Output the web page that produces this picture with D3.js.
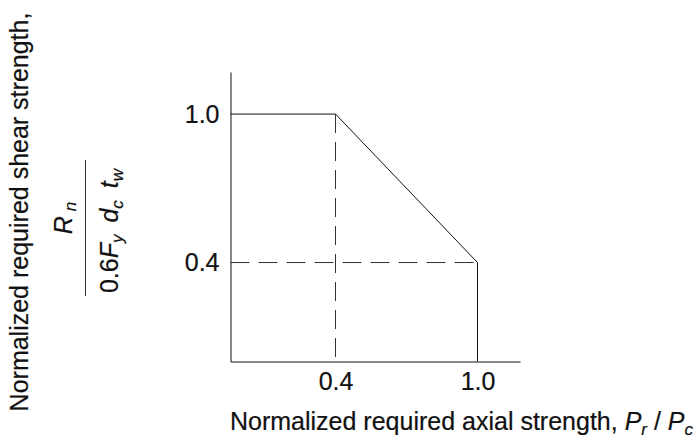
<!DOCTYPE html>
<html>
<head>
<meta charset="utf-8">
<script src="https://cdn.jsdelivr.net/npm/d3@7"></script>
<style>
  body { margin: 0; background: #fff; }
  text { font-family: Arial, "Liberation Sans", sans-serif; fill: #111; stroke: #111; stroke-width: 0.2px; }
</style>
</head>
<body>
<svg id="chart" width="696" height="438"></svg>
<script>
// Tick positions and labels
const xTicks = [0.4, 1.0];
const yTicks = [0.4, 1.0];
const xTickLabels = ["0.4", "1.0"];
const yTickLabels = ["0.4", "1.0"];

// Panel-zone shear envelope: normalized axial strength vs normalized shear strength
const envelopeAxial = [0, 0.4, 1.0, 1.0];
const envelopeShear = [1.0, 1.0, 0.4, 0];

// Dashed guide lines
const guideH = { axial: [0, 1.0], shear: [0.4, 0.4] };
const guideV = { axial: [0.4, 0.4], shear: [1.0, 0] };

const svg = d3.select("#chart");

// Schematic x scale (piecewise linear through the tick positions)
const x = d3.scaleLinear()
  .domain([0, 0.4, 1.0, 1.18])
  .range([230.5, 335.5, 477.5, 520]);

const y = d3.scaleLinear()
  .domain([0, 1.17])
  .range([361.5, 72]);

const lineGen = d3.line().x(d => x(d[0])).y(d => y(d[1]));

// Axes
const xAxis = d3.axisBottom(x)
  .tickValues(xTicks)
  .tickFormat((d, i) => xTickLabels[i])
  .tickSize(0).tickSizeOuter(0).tickPadding(10.5);
const yAxis = d3.axisLeft(y)
  .tickValues(yTicks)
  .tickFormat((d, i) => yTickLabels[i])
  .tickSize(0).tickSizeOuter(0).tickPadding(11);

const gx = svg.append("g").attr("transform", `translate(0,${y(0)})`).call(xAxis);
const gy = svg.append("g").attr("transform", `translate(${x(0)},0)`).call(yAxis);
[gx, gy].forEach(g => {
  g.select(".domain").attr("stroke", "#111").attr("stroke-width", 1);
  g.selectAll("text").attr("font-size", 25).attr("fill", "#111")
    .style("font-family", "Arial, 'Liberation Sans', sans-serif");
});

// Dashed guides
svg.append("path")
  .datum(d3.zip(guideH.axial, guideH.shear))
  .attr("d", lineGen)
  .attr("fill", "none").attr("stroke", "#333").attr("stroke-width", 1)
  .attr("stroke-dasharray", "19,9");
svg.append("path")
  .datum(d3.zip(guideV.axial, guideV.shear))
  .attr("d", lineGen)
  .attr("fill", "none").attr("stroke", "#333").attr("stroke-width", 1)
  .attr("stroke-dasharray", "19,9");

// Envelope
svg.append("path")
  .datum(d3.zip(envelopeAxial, envelopeShear))
  .attr("d", lineGen)
  .attr("fill", "none").attr("stroke", "#111").attr("stroke-width", 1);

// X axis title
const xt = svg.append("text")
  .attr("x", 230).attr("y", 430)
  .attr("font-size", 25);
xt.append("tspan").text("Normalized required axial strength, ");
xt.append("tspan").attr("font-style", "italic").text("P");
xt.append("tspan").attr("font-style", "italic").attr("font-size", 17).attr("dy", 5).text("r");
xt.append("tspan").attr("dy", -5).text(" / ");
xt.append("tspan").attr("font-style", "italic").text("P");
xt.append("tspan").attr("font-style", "italic").attr("font-size", 17).attr("dy", 5).text("c");

// Y axis title
svg.append("text")
  .attr("transform", "translate(28,212) rotate(-90)")
  .attr("text-anchor", "middle")
  .attr("font-size", 25)
  .text("Normalized required shear strength,");

// Fraction R_n / (0.6 F_y d_c t_w)
const frac = svg.append("g").attr("transform", "translate(85.5,228) rotate(-90)");
frac.append("line")
  .attr("x1", -68).attr("x2", 68)
  .attr("stroke", "#333").attr("stroke-width", 1);
const num = frac.append("text")
  .attr("text-anchor", "middle").attr("x", 10).attr("y", -14)
  .attr("font-size", 25);
num.append("tspan").attr("font-style", "italic").text("R");
num.append("tspan").attr("font-style", "italic").attr("font-size", 17).attr("dy", 4).text(" n");
const den = frac.append("text")
  .attr("text-anchor", "middle").attr("x", -3).attr("y", 32)
  .attr("font-size", 25);
den.append("tspan").text("0.6");
den.append("tspan").attr("font-style", "italic").text("F");
den.append("tspan").attr("font-style", "italic").attr("font-size", 17).attr("dy", 5).text("y");
den.append("tspan").attr("font-style", "italic").attr("dy", -5).attr("dx", 5).text(" d");
den.append("tspan").attr("font-style", "italic").attr("font-size", 17).attr("dy", 5).text("c");
den.append("tspan").attr("font-style", "italic").attr("dy", -5).attr("dx", 5).text(" t");
den.append("tspan").attr("font-style", "italic").attr("font-size", 17).attr("dy", 5).text("w");
</script>
</body>
</html>
